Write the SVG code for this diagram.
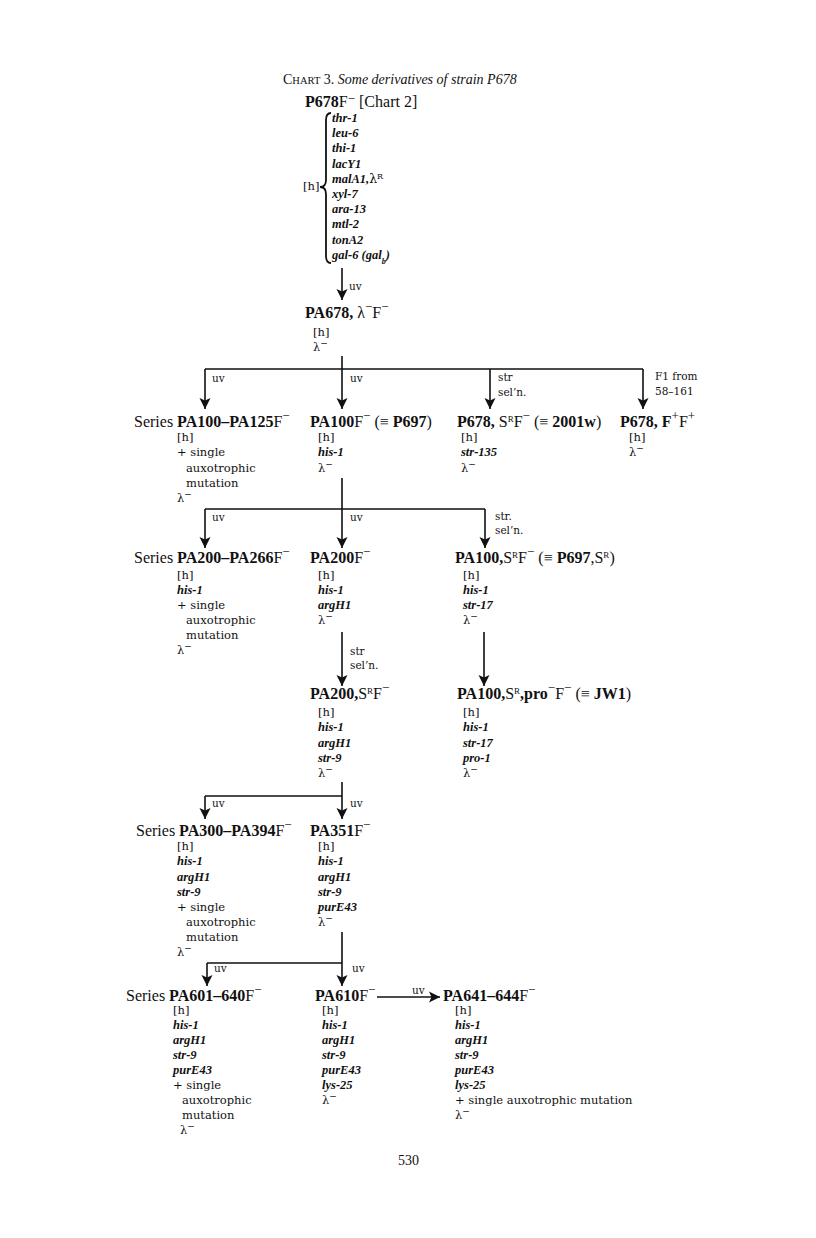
<svg xmlns="http://www.w3.org/2000/svg" width="816" height="1238" viewBox="0 0 816 1238">
<style>
text{fill:#111}
.t{font-family:"Liberation Serif",serif;font-size:14px}
.n{font-family:"Liberation Serif",serif;font-size:16px}
.b{font-weight:bold}
.s{font-family:"DejaVu Serif",serif;font-size:11.5px}
.g{font-family:"Liberation Serif",serif;font-size:12.5px;font-weight:bold;font-style:italic}
.l{font-family:"DejaVu Serif",serif;font-size:10.5px}
.m{font-size:13px}
.c line,.c path{stroke:#111;stroke-width:1.6;fill:none}
</style>
<defs>
<marker id="ah" markerUnits="userSpaceOnUse" markerWidth="12" markerHeight="12" viewBox="0 0 12 12" refX="11" refY="6" orient="auto">
<path d="M0,0.5 L11,6 L0,11.5 L2.5,6 z" fill="#111"/>
</marker>
</defs>
<rect width="816" height="1238" fill="#fff"/>

<text class="t" x="283" y="84">C<tspan font-size="10.5">HART</tspan> 3. <tspan font-style="italic">Some derivatives of strain P678</tspan></text>

<g id="P678">
<text class="n" x="305" y="107"><tspan class="b">P678</tspan>F<tspan class="m" baseline-shift="4">−</tspan> [Chart 2]</text>
<path d="M331,113 Q326,113 326,120 L326,180 Q326,187 320,187 Q326,187 326,194 L326,256 Q326,263 331,263" stroke="#111" stroke-width="1.8" fill="none"/>
<text class="s" x="303" y="190">[h]</text>
<text class="g" x="332" y="122">thr-1</text>
<text class="g" x="332" y="137">leu-6</text>
<text class="g" x="332" y="152">thi-1</text>
<text class="g" x="332" y="168">lacY1</text>
<text class="g" x="332" y="183">malA1,<tspan font-style="normal" font-weight="normal" font-family="DejaVu Serif">λ<tspan font-size="8" baseline-shift="super">R</tspan></tspan></text>
<text class="g" x="332" y="198">xyl-7</text>
<text class="g" x="332" y="213">ara-13</text>
<text class="g" x="332" y="228">mtl-2</text>
<text class="g" x="332" y="244">tonA2</text>
<text class="g" x="332" y="259">gal-6 (gal<tspan font-size="8" baseline-shift="sub">b</tspan>)</text>
</g>

<g id="PA678">
<text class="n" x="305" y="318"><tspan class="b">PA678,</tspan> λ<tspan class="m" baseline-shift="super">−</tspan>F<tspan class="m" baseline-shift="super">−</tspan></text>
<text class="s" x="313" y="336">[h]</text>
<text class="s" x="313" y="351">λ<tspan font-size="9" baseline-shift="super">−</tspan></text>
</g>

<g id="SeriesPA100">
<text class="n" x="134" y="427">Series <tspan class="b">PA100–PA125</tspan>F<tspan class="m" baseline-shift="super">−</tspan></text>
<text class="s" x="177" y="441">[h]</text>
<text class="s" x="177" y="456">+ single</text>
<text class="s" x="186" y="472">auxotrophic</text>
<text class="s" x="186" y="487">mutation</text>
<text class="s" x="177" y="502">λ<tspan font-size="9" baseline-shift="super">−</tspan></text>
</g>

<g id="PA100">
<text class="n" x="310" y="427"><tspan class="b">PA100</tspan>F<tspan class="m" baseline-shift="super">−</tspan> (≡ <tspan class="b">P697</tspan>)</text>
<text class="s" x="318" y="441">[h]</text>
<text class="g" x="318" y="456">his-1</text>
<text class="s" x="318" y="472">λ<tspan font-size="9" baseline-shift="super">−</tspan></text>
</g>

<g id="P678SR">
<text class="n" x="457" y="427"><tspan class="b">P678,</tspan> S<tspan font-size="9" baseline-shift="super">R</tspan>F<tspan class="m" baseline-shift="super">−</tspan> (≡ <tspan class="b">2001w</tspan>)</text>
<text class="s" x="461" y="441">[h]</text>
<text class="g" x="461" y="456">str-135</text>
<text class="s" x="461" y="472">λ<tspan font-size="9" baseline-shift="super">−</tspan></text>
</g>

<g id="P678FF">
<text class="n" x="620" y="427"><tspan class="b">P678, F</tspan><tspan class="m" baseline-shift="super">+</tspan>F<tspan class="m" baseline-shift="super">+</tspan></text>
<text class="s" x="629" y="441">[h]</text>
<text class="s" x="629" y="456">λ<tspan font-size="9" baseline-shift="super">−</tspan></text>
</g>

<g id="SeriesPA200">
<text class="n" x="134" y="563">Series <tspan class="b">PA200–PA266</tspan>F<tspan class="m" baseline-shift="super">−</tspan></text>
<text class="s" x="177" y="579">[h]</text>
<text class="g" x="177" y="594">his-1</text>
<text class="s" x="177" y="609">+ single</text>
<text class="s" x="186" y="624">auxotrophic</text>
<text class="s" x="186" y="639">mutation</text>
<text class="s" x="177" y="654">λ<tspan font-size="9" baseline-shift="super">−</tspan></text>
</g>

<g id="PA200">
<text class="n" x="310" y="563"><tspan class="b">PA200</tspan>F<tspan class="m" baseline-shift="super">−</tspan></text>
<text class="s" x="318" y="579">[h]</text>
<text class="g" x="318" y="594">his-1</text>
<text class="g" x="318" y="609">argH1</text>
<text class="s" x="318" y="624">λ<tspan font-size="9" baseline-shift="super">−</tspan></text>
</g>

<g id="PA100SR">
<text class="n" x="455" y="563"><tspan class="b">PA100,</tspan>S<tspan font-size="9" baseline-shift="super">R</tspan>F<tspan class="m" baseline-shift="super">−</tspan> (≡ <tspan class="b">P697</tspan>,S<tspan font-size="9" baseline-shift="super">R</tspan>)</text>
<text class="s" x="463" y="579">[h]</text>
<text class="g" x="463" y="594">his-1</text>
<text class="g" x="463" y="609">str-17</text>
<text class="s" x="463" y="624">λ<tspan font-size="9" baseline-shift="super">−</tspan></text>
</g>

<g id="PA200SR">
<text class="n" x="310" y="699"><tspan class="b">PA200,</tspan>S<tspan font-size="9" baseline-shift="super">R</tspan>F<tspan class="m" baseline-shift="super">−</tspan></text>
<text class="s" x="318" y="716">[h]</text>
<text class="g" x="318" y="731">his-1</text>
<text class="g" x="318" y="747">argH1</text>
<text class="g" x="318" y="762">str-9</text>
<text class="s" x="318" y="777">λ<tspan font-size="9" baseline-shift="super">−</tspan></text>
</g>

<g id="PA100SRpro">
<text class="n" x="457" y="699"><tspan class="b">PA100,</tspan>S<tspan font-size="9" baseline-shift="super">R</tspan><tspan class="b">,pro</tspan><tspan class="m" baseline-shift="super">−</tspan>F<tspan class="m" baseline-shift="super">−</tspan> (≡ <tspan class="b">JW1</tspan>)</text>
<text class="s" x="463" y="716">[h]</text>
<text class="g" x="463" y="731">his-1</text>
<text class="g" x="463" y="747">str-17</text>
<text class="g" x="463" y="762">pro-1</text>
<text class="s" x="463" y="777">λ<tspan font-size="9" baseline-shift="super">−</tspan></text>
</g>

<g id="SeriesPA300">
<text class="n" x="136" y="836">Series <tspan class="b">PA300–PA394</tspan>F<tspan class="m" baseline-shift="super">−</tspan></text>
<text class="s" x="177" y="850">[h]</text>
<text class="g" x="177" y="865">his-1</text>
<text class="g" x="177" y="881">argH1</text>
<text class="g" x="177" y="896">str-9</text>
<text class="s" x="177" y="911">+ single</text>
<text class="s" x="186" y="926">auxotrophic</text>
<text class="s" x="186" y="941">mutation</text>
<text class="s" x="177" y="956">λ<tspan font-size="9" baseline-shift="super">−</tspan></text>
</g>

<g id="PA351">
<text class="n" x="310" y="836"><tspan class="b">PA351</tspan>F<tspan class="m" baseline-shift="super">−</tspan></text>
<text class="s" x="318" y="850">[h]</text>
<text class="g" x="318" y="865">his-1</text>
<text class="g" x="318" y="881">argH1</text>
<text class="g" x="318" y="896">str-9</text>
<text class="g" x="318" y="911">purE43</text>
<text class="s" x="318" y="926">λ<tspan font-size="9" baseline-shift="super">−</tspan></text>
</g>

<g id="SeriesPA601">
<text class="n" x="126" y="1001">Series <tspan class="b">PA601–640</tspan>F<tspan class="m" baseline-shift="super">−</tspan></text>
<text class="s" x="173" y="1014">[h]</text>
<text class="g" x="173" y="1029">his-1</text>
<text class="g" x="173" y="1044">argH1</text>
<text class="g" x="173" y="1059">str-9</text>
<text class="g" x="173" y="1074">purE43</text>
<text class="s" x="173" y="1089">+ single</text>
<text class="s" x="182" y="1104">auxotrophic</text>
<text class="s" x="182" y="1119">mutation</text>
<text class="s" x="180" y="1134">λ<tspan font-size="9" baseline-shift="super">−</tspan></text>
</g>

<g id="PA610">
<text class="n" x="315" y="1001"><tspan class="b">PA610</tspan>F<tspan class="m" baseline-shift="super">−</tspan></text>
<text class="s" x="322" y="1014">[h]</text>
<text class="g" x="322" y="1029">his-1</text>
<text class="g" x="322" y="1044">argH1</text>
<text class="g" x="322" y="1059">str-9</text>
<text class="g" x="322" y="1074">purE43</text>
<text class="g" x="322" y="1089">lys-25</text>
<text class="s" x="322" y="1104">λ<tspan font-size="9" baseline-shift="super">−</tspan></text>
</g>

<g id="PA641">
<text class="n" x="443" y="1001"><tspan class="b">PA641–644</tspan>F<tspan class="m" baseline-shift="super">−</tspan></text>
<text class="s" x="455" y="1014">[h]</text>
<text class="g" x="455" y="1029">his-1</text>
<text class="g" x="455" y="1044">argH1</text>
<text class="g" x="455" y="1059">str-9</text>
<text class="g" x="455" y="1074">purE43</text>
<text class="g" x="455" y="1089">lys-25</text>
<text class="s" x="455" y="1104">+ single auxotrophic mutation</text>
<text class="s" x="455" y="1119">λ<tspan font-size="9" baseline-shift="super">−</tspan></text>
</g>

<g id="connectors" class="c">
<line x1="342" y1="268" x2="342" y2="300" marker-end="url(#ah)"/>
<path d="M342,356 V369 M205,369 H643"/>
<line x1="205" y1="369" x2="205" y2="409" marker-end="url(#ah)"/>
<line x1="342" y1="369" x2="342" y2="409" marker-end="url(#ah)"/>
<line x1="490" y1="369" x2="490" y2="409" marker-end="url(#ah)"/>
<line x1="643" y1="369" x2="643" y2="409" marker-end="url(#ah)"/>
<path d="M342,478 V509 M205,509 H485"/>
<line x1="205" y1="509" x2="205" y2="548" marker-end="url(#ah)"/>
<line x1="342" y1="509" x2="342" y2="548" marker-end="url(#ah)"/>
<line x1="485" y1="509" x2="485" y2="548" marker-end="url(#ah)"/>
<line x1="342" y1="632" x2="342" y2="686" marker-end="url(#ah)"/>
<line x1="484" y1="632" x2="484" y2="686" marker-end="url(#ah)"/>
<path d="M342,782 V796 M205,796 H342"/>
<line x1="205" y1="796" x2="205" y2="819" marker-end="url(#ah)"/>
<line x1="342" y1="796" x2="342" y2="819" marker-end="url(#ah)"/>
<path d="M342,932 V963 M207,963 H342"/>
<line x1="207" y1="963" x2="207" y2="986" marker-end="url(#ah)"/>
<line x1="342" y1="963" x2="342" y2="986" marker-end="url(#ah)"/>
<line x1="377" y1="997" x2="440" y2="997" marker-end="url(#ah)"/>
</g>

<g id="labels">
<text class="l" x="349" y="290">uv</text>
<text class="l" x="212" y="382">uv</text>
<text class="l" x="350" y="382">uv</text>
<text class="l" x="498" y="381">str</text>
<text class="l" x="498" y="396">sel’n.</text>
<text class="l" x="655" y="380">F1 from</text>
<text class="l" x="655" y="395">58–161</text>
<text class="l" x="212" y="521">uv</text>
<text class="l" x="350" y="521">uv</text>
<text class="l" x="495" y="520">str.</text>
<text class="l" x="495" y="534">sel’n.</text>
<text class="l" x="350" y="655">str</text>
<text class="l" x="350" y="669">sel’n.</text>
<text class="l" x="212" y="807">uv</text>
<text class="l" x="350" y="807">uv</text>
<text class="l" x="214" y="972">uv</text>
<text class="l" x="352" y="972">uv</text>
<text class="l" x="412" y="994">uv</text>
</g>

<text class="t" x="398" y="1165">530</text>
</svg>
